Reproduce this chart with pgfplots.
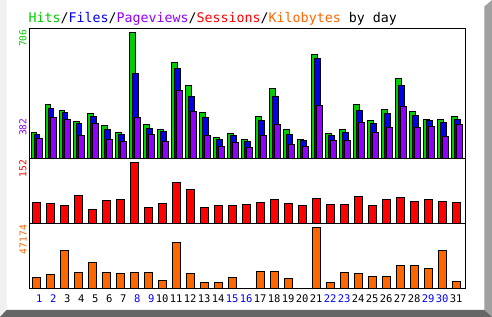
\documentclass[border=0pt]{standalone}
\usepackage{pgfplots}
\pgfplotsset{compat=1.18}
\usepackage{pgfplotstable}
\usepackage{fontspec}
\newfontfamily\mono{DejaVu Sans Mono}
\definecolor{hitc}{RGB}{0,204,0}
\definecolor{filec}{RGB}{0,0,235}
\definecolor{pagec}{RGB}{144,0,255}
\definecolor{sessc}{RGB}{255,0,0}
\definecolor{kbc}{RGB}{255,102,0}
\definecolor{wk}{RGB}{0,0,255}
\definecolor{lgray}{RGB}{240,240,240}
\definecolor{mgray}{RGB}{160,160,160}
\definecolor{dgray}{RGB}{102,102,102}
\pgfplotstableread{
d hits files pages sess kb
1 146 134 112 52 8507
2 303 280 230 50 10827
3 269 258 219 45 29389
4 207 196 129 70 12374
5 252 235 196 35 20108
6 185 163 106 57 12374
7 146 134 95 60 11601
8 706 476 230 152 12374
9 191 168 134 40 12374
10 163 151 95 50 6187
11 538 504 382 102 35576
12 409 347 263 85 11601
13 258 230 129 40 4640
14 118 106 67 45 4640
15 140 129 90 45 8507
16 106 95 62 47 0
17 235 213 129 52 13148
18 392 347 191 60 13148
19 163 134 78 50 7734
20 106 101 67 45 0
21 583 560 297 62 47174
22 140 129 101 47 4640
23 163 146 101 47 12374
24 303 269 202 67 11601
25 213 196 146 45 9281
26 275 252 174 60 9281
27 448 409 291 65 17788
28 263 241 174 55 17788
29 219 213 179 60 15468
30 219 202 123 55 29389
31 235 219 191 52 5414
}\datatable
\pgfplotsset{
  panel/.style={
    scale only axis, width=436.7bp, xmin=0.48, xmax=31.66, ymin=0,
    axis line style={line width=1bp, black},
    ytick=\empty, xtick=\empty, anchor=south west,
    every axis plot/.append style={draw=black, line width=1bp, bar shift=0pt},
  }
}
\begin{document}
\begin{tikzpicture}
\path[use as bounding box] (0bp,0bp) rectangle (492bp,317bp);
\fill[white] (0bp,0bp) rectangle (492bp,317bp);
% bevel frame
\fill[lgray] (0bp,317bp) -- (6.5bp,317bp) -- (6.5bp,7bp) -- (0bp,0bp) -- cycle;
\fill[mgray] (484.3bp,310.5bp) -- (492bp,317bp) -- (492bp,0bp) -- (484.3bp,7bp) -- cycle;
\fill[dgray] (0bp,0bp) -- (6.5bp,7bp) -- (484.3bp,7bp) -- (492bp,0bp) -- cycle;
% title
\node[anchor=base west, inner sep=0, font=\mono\fontsize{13.3bp}{14bp}\selectfont] at (28.3bp,294.3bp)
  {\textcolor{hitc}{Hits}/\textcolor{filec}{Files}/\textcolor{pagec}{Pageviews}/\textcolor{sessc}{Sessions}/\textcolor{kbc}{Kilobytes} by day};
% main panel
\begin{axis}[panel, at={(29bp,158.7bp)}, height=130bp, ymax=728.4]
\addplot[ybar, bar width=0.4, fill=hitc] table[x expr=\thisrow{d}-0.15, y=hits] {\datatable};
\addplot[ybar, bar width=0.4, fill=filec] table[x expr=\thisrow{d}+0.064, y=files] {\datatable};
\addplot[ybar, bar width=0.4, fill=pagec] table[x expr=\thisrow{d}+0.229, y=pages] {\datatable};
\end{axis}
% sessions panel
\begin{axis}[panel, at={(29bp,93.7bp)}, height=65bp, ymax=162]
\addplot[ybar, bar width=0.56, fill=sessc] table[x=d, y=sess] {\datatable};
\end{axis}
% kilobytes panel
\begin{axis}[panel, at={(29bp,28.7bp)}, height=65bp, ymax=50267,
  xtick={1,...,31}, major tick length=0pt,
  xticklabel style={font=\mono\fontsize{10.5bp}{11bp}\selectfont, anchor=base east, inner sep=0pt, xshift=6.3bp, yshift=-14.4bp},
  xticklabels={\textcolor{wk}{1},\textcolor{wk}{2},3,4,5,6,7,\textcolor{wk}{8},\textcolor{wk}{9},10,11,12,13,14,\textcolor{wk}{15},\textcolor{wk}{16},17,18,19,20,21,\textcolor{wk}{22},\textcolor{wk}{23},24,25,26,27,28,\textcolor{wk}{29},\textcolor{wk}{30},31}]
\addplot[ybar, bar width=0.56, fill=kbc] table[x=d, y=kb] {\datatable};
\end{axis}
% y labels
\begin{scope}[every node/.style={rotate=90, anchor=east, inner sep=0, font=\mono\fontsize{9.6bp}{10bp}\selectfont}]
\node[text=hitc] at (23bp,287.7bp) {706};
\node[text=pagec] at (23bp,198.7bp) {382};
\node[text=sessc] at (23bp,157bp) {152};
\node[text=kbc] at (23bp,92bp) {47174};
\end{scope}
\end{tikzpicture}
\end{document}
